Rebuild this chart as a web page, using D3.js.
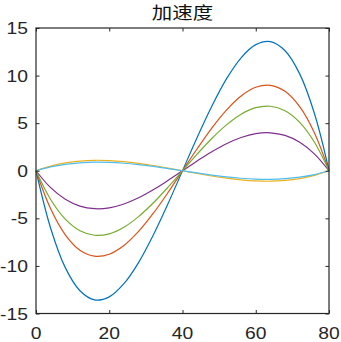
<!DOCTYPE html>
<html>
<head>
<meta charset="utf-8">
<script src="https://cdn.jsdelivr.net/npm/d3@7"></script>
<style>
  html, body { margin: 0; padding: 0; background: #fff; }
  svg { display: block; }
</style>
</head>
<body>
<svg id="chart" width="341" height="342"></svg>
<script>
// ---- data ----
const title = "加速度";
const tValues = [0, 4, 8, 12, 16, 20, 24, 28, 32, 36, 40, 44, 48, 52, 56, 60, 64, 68, 72, 76, 80];
const seriesBlue   = [0, -6.04, -10.18, -12.61, -13.57, -13.25, -11.87, -9.65, -6.78, -3.50, 0, 3.50, 6.78, 9.65, 11.87, 13.25, 13.57, 12.61, 10.18, 6.04, 0];
const seriesOrange = [0, -4.00, -6.73, -8.35, -8.98, -8.77, -7.86, -6.38, -4.49, -2.31, 0, 2.31, 4.49, 6.38, 7.86, 8.77, 8.98, 8.35, 6.73, 4.00, 0];
const seriesYellow = [0, 0.49, 0.82, 1.02, 1.10, 1.07, 0.96, 0.78, 0.55, 0.28, 0, -0.28, -0.55, -0.78, -0.96, -1.07, -1.10, -1.02, -0.82, -0.49, 0];
const seriesPurple = [0, -1.78, -2.99, -3.71, -3.99, -3.90, -3.49, -2.84, -2.00, -1.03, 0, 1.03, 2.00, 2.84, 3.49, 3.90, 3.99, 3.71, 2.99, 1.78, 0];
const seriesGreen  = [0, -3.02, -5.09, -6.31, -6.78, -6.63, -5.94, -4.82, -3.39, -1.75, 0, 1.75, 3.39, 4.82, 5.94, 6.63, 6.78, 6.31, 5.09, 3.02, 0];
const seriesCyan   = [0, 0.40, 0.67, 0.83, 0.90, 0.88, 0.79, 0.64, 0.45, 0.23, 0, -0.23, -0.45, -0.64, -0.79, -0.88, -0.90, -0.83, -0.67, -0.40, 0];
const xTicks = [0, 20, 40, 60, 80];
const yTicks = [-15, -10, -5, 0, 5, 10, 15];

const allSeries = [seriesBlue, seriesOrange, seriesYellow, seriesPurple, seriesGreen, seriesCyan];
const colors = ["#0072BD", "#D95319", "#EDB120", "#7E2F8E", "#77AC30", "#4DBEEE"];

// ---- layout ----
const mLeft = 36, mRight = 329, mTop = 28, mBottom = 313.5;
const sx = 1.17; // horizontal text stretch seen in the picture

const svg = d3.select("#chart");
const x = d3.scaleLinear().domain([0, 80]).range([mLeft, mRight]);
const y = d3.scaleLinear().domain([-15, 15]).range([mBottom, mTop]);

const line = d3.line()
  .x((d, i) => x(tValues[i]))
  .y(d => y(d))
  .curve(d3.curveCatmullRom.alpha(0.5));

const g = svg.append("g");
allSeries.forEach((s, k) => {
  g.append("path")
    .attr("d", line(s))
    .attr("fill", "none")
    .attr("stroke", colors[k])
    .attr("stroke-width", 1.2);
});

// box
const axisColor = "#262626";
svg.append("rect")
  .attr("x", mLeft).attr("y", mTop)
  .attr("width", mRight - mLeft).attr("height", mBottom - mTop)
  .attr("fill", "none").attr("stroke", axisColor).attr("stroke-width", 1.2);

// ticks (inward) using d3 axes
const tickLen = 3.5;
const axB = svg.append("g").attr("transform", `translate(0,${mBottom})`)
  .call(d3.axisTop(x).tickValues(xTicks).tickSize(tickLen).tickFormat(""));
const axT = svg.append("g").attr("transform", `translate(0,${mTop})`)
  .call(d3.axisBottom(x).tickValues(xTicks).tickSize(tickLen).tickFormat(""));
const axL = svg.append("g").attr("transform", `translate(${mLeft},0)`)
  .call(d3.axisRight(y).tickValues(yTicks).tickSize(tickLen).tickFormat(""));
const axR = svg.append("g").attr("transform", `translate(${mRight},0)`)
  .call(d3.axisLeft(y).tickValues(yTicks).tickSize(tickLen).tickFormat(""));
[axB, axT, axL, axR].forEach(a => {
  a.select(".domain").remove();
  a.selectAll("line").attr("stroke", axisColor).attr("stroke-width", 1);
});

// tick labels
const fontNum = "'Liberation Sans', Arial, sans-serif";
yTicks.forEach(v => {
  svg.append("text")
    .attr("transform", `translate(28,${y(v) + 6}) scale(${sx},1)`)
    .attr("text-anchor", "end")
    .attr("font-family", fontNum)
    .attr("font-size", 16.5)
    .attr("fill", axisColor)
    .text(v);
});
xTicks.forEach(v => {
  svg.append("text")
    .attr("transform", `translate(${x(v)},338.5) scale(${sx},1)`)
    .attr("text-anchor", "middle")
    .attr("font-family", fontNum)
    .attr("font-size", 16.5)
    .attr("fill", axisColor)
    .text(v);
});

// title
svg.append("text")
  .attr("transform", `translate(${(mLeft + mRight) / 2},19) scale(${sx},1)`)
  .attr("text-anchor", "middle")
  .attr("font-family", "'Noto Sans CJK SC', sans-serif")
  .attr("font-size", 17.5)
  .attr("fill", "#111")
  .text(title);
</script>
</body>
</html>
